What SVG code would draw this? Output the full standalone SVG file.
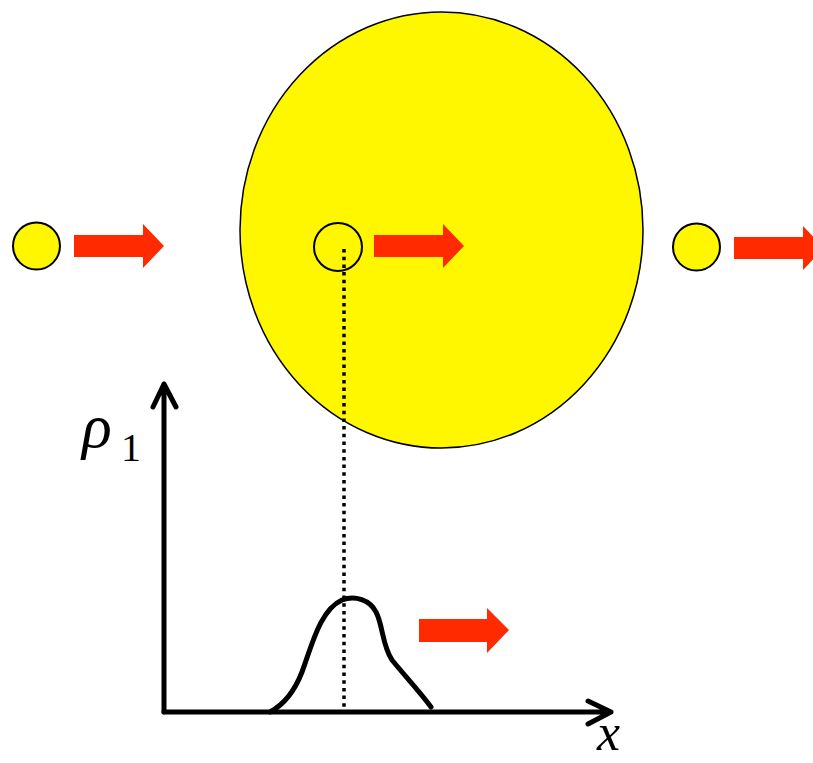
<svg xmlns="http://www.w3.org/2000/svg" width="813" height="763" viewBox="0 0 813 763">
<style>
.dot{fill:#FFF700;stroke:#000;stroke-width:2}
.arr{fill:#FF2A00}
.ax{fill:none;stroke:#000;stroke-width:5;stroke-linecap:round;stroke-linejoin:round}
</style>
<rect width="813" height="763" fill="#fff"/>
<g id="nucleus">
<ellipse cx="441.5" cy="230" rx="201.5" ry="218" fill="#FFF700" stroke="#000" stroke-width="1.5"/>
</g>
<g id="particle-left">
<circle class="dot" cx="36.5" cy="246" r="23.5"/>
<polygon class="arr" points="74,235 143,235 143,224 164,246 143,268 143,257 74,257"/>
</g>
<g id="particle-mid">
<circle cx="338" cy="247" r="24" fill="none" stroke="#000" stroke-width="2"/>
<polygon class="arr" points="374,235 443,235 443,224 464,246 443,268 443,257 374,257"/>
</g>
<g id="particle-right">
<circle class="dot" cx="696.5" cy="247" r="23.5"/>
<polygon class="arr" points="734,237 803,237 803,226 824,248 803,270 803,259 734,259"/>
</g>
<g id="connectors">
<line x1="344" y1="249" x2="344" y2="710" stroke="#000" stroke-width="3.5" stroke-dasharray="3.5 4.2"/>
</g>
<g id="plot">
<path class="ax" d="M164,712 V384 M153,407 L164,384 L176,407"/>
<path class="ax" d="M164,712 H611 M588,701 L611,712 L588,724"/>
<path class="ax" d="M270,712 C285,704 295,690 302,672 C312,645 320,610 342,600 C355,595 370,600 376,612 C383,625 382,645 392,660 C405,676 420,692 431,707"/>
<polygon class="arr" points="419,619 487,619 487,608 509,630 487,653 487,642 419,642"/>
<text x="82" y="447" font-family="Liberation Serif, serif" font-style="italic" font-size="62" fill="#000">ρ</text>
<text x="121" y="461" font-family="Liberation Serif, serif" font-size="40" fill="#000">1</text>
<text x="597" y="750" font-family="Liberation Serif, serif" font-style="italic" font-size="52" fill="#000">x</text>
</g>
</svg>
